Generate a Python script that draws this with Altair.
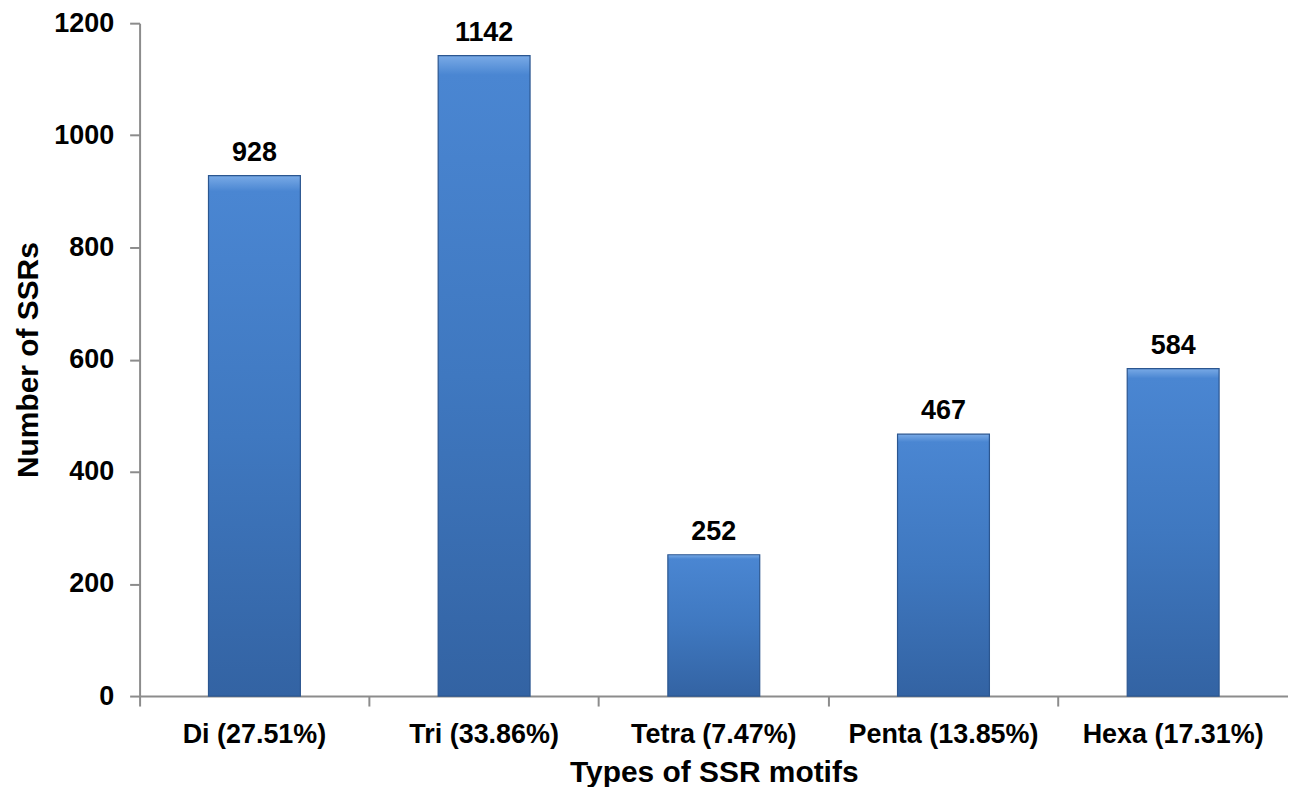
import altair as alt
import pandas as pd

categories = ["Di (27.51%)", "Tri (33.86%)", "Tetra (7.47%)", "Penta (13.85%)", "Hexa (17.31%)"]
counts = [928, 1142, 252, 467, 584]

df = pd.DataFrame({"motif": categories, "count": counts})

FONT = "Liberation Sans"

x_enc = alt.X(
    "motif:N",
    sort=categories,
    scale=alt.Scale(paddingInner=0, paddingOuter=0),
    axis=alt.Axis(
        title="Types of SSR motifs",
        labelAngle=0,
        labelLimit=0,
        labelFont=FONT, labelFontWeight="bold", labelFontSize=27, labelColor="black",
        labelPadding=16,
        titleFont=FONT, titleFontWeight="bold", titleFontSize=30, titleColor="black",
        titlePadding=10,
        domainColor="#8c8c8c", domainWidth=2,
        tickColor="#8c8c8c", tickWidth=2, tickSize=10,
        bandPosition=0,
        grid=False,
    ),
)

y_enc = alt.Y(
    "count:Q",
    scale=alt.Scale(domain=[0, 1200], nice=False),
    axis=alt.Axis(
        title="Number of SSRs",
        values=[0, 200, 400, 600, 800, 1000, 1200],
        format="d",
        labelFont=FONT, labelFontWeight="bold", labelFontSize=27, labelColor="black",
        labelPadding=16,
        titleFont=FONT, titleFontWeight="bold", titleFontSize=30, titleColor="black",
        titlePadding=10,
        domainColor="#8c8c8c", domainWidth=2,
        tickColor="#8c8c8c", tickWidth=2, tickSize=10,
        grid=False,
    ),
)

bars = alt.Chart(df).mark_bar(
    width=alt.RelativeBandSize(0.4),
    stroke="#2b5690",
    strokeWidth=1.2,
    color=alt.Gradient(
        gradient="linear",
        x1=0, y1=0, x2=0, y2=1,
        stops=[
            alt.GradientStop(color="#79aae6", offset=0),
            alt.GradientStop(color="#4a86d2", offset=0.03),
            alt.GradientStop(color="#3f78c0", offset=0.5),
            alt.GradientStop(color="#3363a3", offset=1),
        ],
    ),
).encode(x=x_enc, y=y_enc)

labels = alt.Chart(df).mark_text(
    font=FONT, fontWeight="bold", fontSize=27, color="black",
    baseline="bottom", dy=-9,
).encode(x=alt.X("motif:N", sort=categories), y="count:Q", text="count:Q")

chart = (bars + labels).properties(
    width=1152,
    height=675,
    autosize=alt.AutoSizeParams(type="none"),
    padding={"left": 132, "top": 14, "right": 0, "bottom": 90},
).configure_view(stroke=None)

chart.save("out.html", embed_options={"renderer": "svg", "actions": False})
